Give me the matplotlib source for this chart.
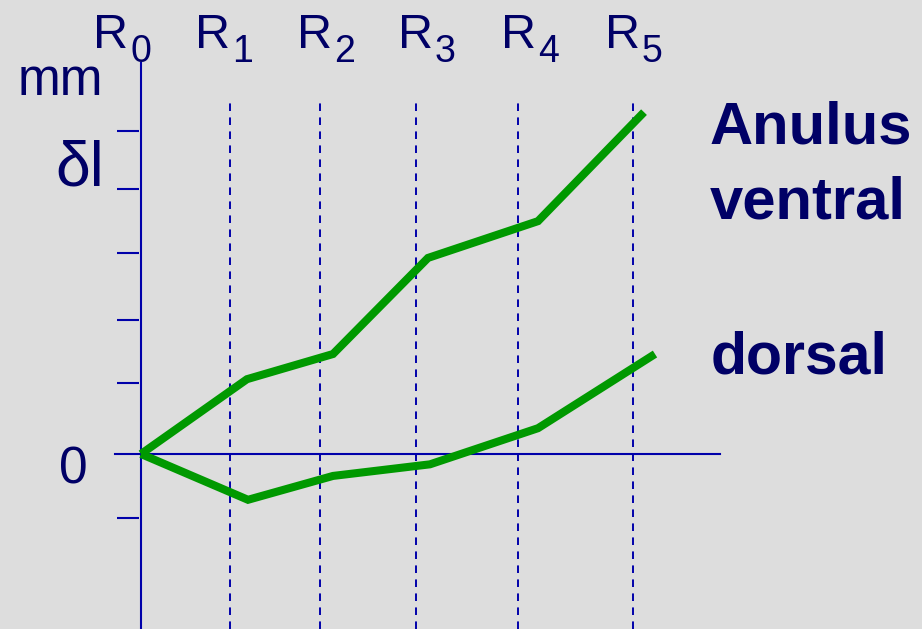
import matplotlib
matplotlib.use('Agg')
import matplotlib.pyplot as plt

# Schematic: elongation dl (mm) of the anulus at successive steps R0..R5
ventral_x = [0, 1.06, 1.92, 2.87, 3.97, 5.03]
ventral_y = [0, 1.16, 1.55, 3.04, 3.61, 5.30]
dorsal_x = [0, 1.07, 1.92, 2.89, 3.97, 5.14]
dorsal_y = [0, -0.71, -0.34, -0.16, 0.40, 1.55]
step_x = [0.89, 1.79, 2.75, 3.77, 4.92]          # dashed guide lines R1..R5
tick_y = [5.01, 4.11, 3.12, 2.08, 1.10, -0.99]
step_labels = ['0', '1', '2', '3', '4', '5']

BG = '#dddddd'
NAVY = '#000066'
AXIS = '#0000aa'
GREEN = '#009900'
FONT = 'Liberation Sans'

W, H = 922, 629
fig = plt.figure(figsize=(W / 100, H / 100), dpi=100, facecolor=BG)
ax = fig.add_axes([0, 0, 1, 1])
ax.set_facecolor(BG)
# 1 x unit = 100 px, 1 y unit = 64.5 px, origin at pixel (141, 454)
ax.set_xlim(-1.41, (W - 141) / 100)
ax.set_ylim((454 - H) / 64.5, 454 / 64.5)
ax.axis('off')

# axes
ax.plot([0, 0], [(454 - H) / 64.5, (454 - 63) / 64.5], color=AXIS, lw=1.5)
ax.plot([-0.26, 5.79], [0, 0], color=AXIS, lw=1.5)
ax.hlines(tick_y, -0.24, -0.02, color=AXIS, lw=1.5)
ax.vlines(step_x, (454 - H) / 64.5, (454 - 103) / 64.5, color=AXIS, lw=1.4,
          linestyles=(0, (3.9, 3.3)))

ax.plot(ventral_x, ventral_y, color=GREEN, lw=5.8, solid_capstyle='butt',
        solid_joinstyle='miter')
ax.plot(dorsal_x, dorsal_y, color=GREEN, lw=5.8, solid_capstyle='butt',
        solid_joinstyle='miter')


def ftext(px, py, s, size, weight='normal'):
    fig.text(px / W, 1 - py / H, s, fontsize=size, fontweight=weight,
             color=NAVY, family=FONT, ha='left', va='baseline')


# R0..R5 labels along the top
r_left = [95, 197, 299, 400, 503, 607]
for x0, sub in zip(r_left, step_labels):
    ftext(x0 - 2, 48, 'R', 35)
    ftext(x0 + 35, 62, sub, 27)

ftext(18, 95, 'mm', 37)
ftext(55, 185, 'δl', 45)
ftext(59, 483, '0', 37)
ftext(710, 143, 'Anulus', 43, 'bold')
ftext(710, 218, 'ventral', 43, 'bold')
ftext(711, 373, 'dorsal', 42.5, 'bold')

fig.savefig('out.png', dpi=100, facecolor=BG)
